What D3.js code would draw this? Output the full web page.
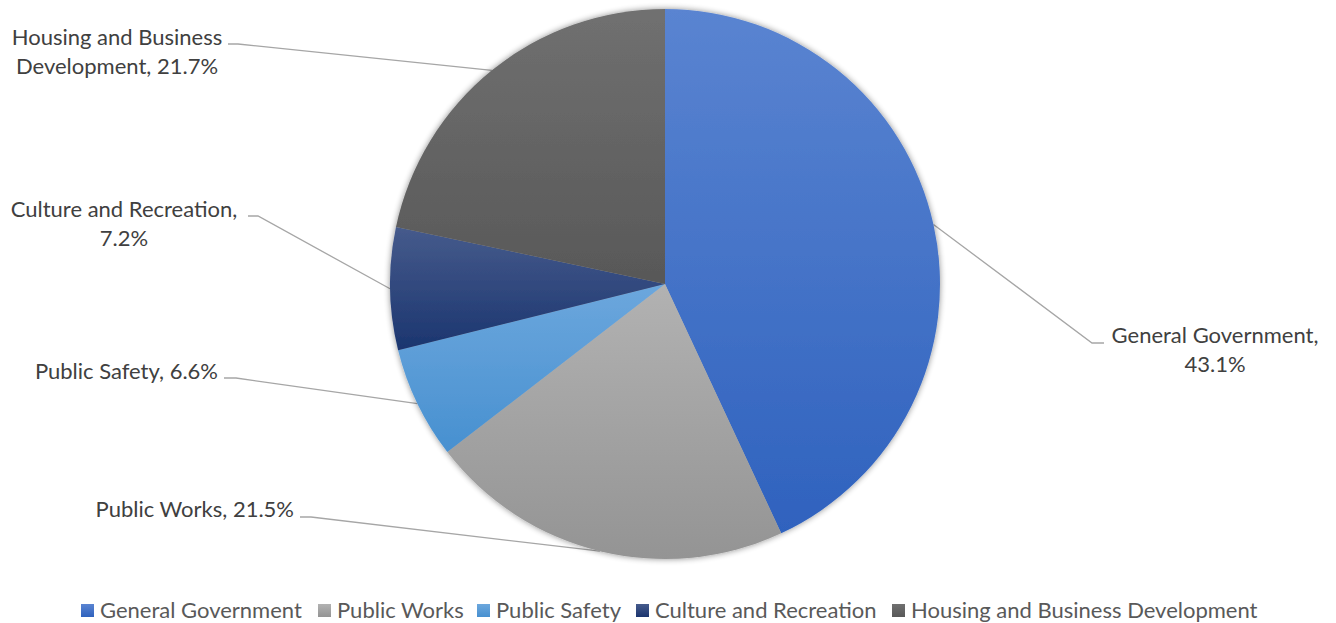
<!DOCTYPE html>
<html><head><meta charset="utf-8">
<script src="https://cdn.jsdelivr.net/npm/d3@7"></script>
<style>
html,body{margin:0;padding:0;background:#fff;}
svg{display:block;font-family:Lato,"Open Sans",sans-serif;}
</style></head><body>
<svg id="chart" width="1336" height="623"></svg>
<script>
const categories = ["General Government","Public Works","Public Safety","Culture and Recreation","Housing and Business Development"];
const values = [43.1, 21.5, 6.6, 7.2, 21.7];
const labelLines = [["General Government,","43.1%"],["Public Works, 21.5%"],["Public Safety, 6.6%"],["Culture and Recreation,","7.2%"],["Housing and Business","Development, 21.7%"]];
const colors = [["#5a84d1","#2f62be"],["#b2b2b2","#949494"],["#6ca7dd","#4790d0"],["#465b8c","#1b356f"],["#707070","#585858"]];

const svg = d3.select("#chart");
const cx = 665, cy = 284, R = 275;

const layout = [
  {anchor:"middle", x:1215, y:343, p1:[1104,343], p2:[1092,343]},
  {anchor:"end", x:294, y:517, p1:[300,517], p2:[311,517]},
  {anchor:"end", x:218, y:379, p1:[224,378], p2:[236,378]},
  {anchor:"middle", x:124, y:217, p1:[248,216], p2:[258,216]},
  {anchor:"middle", x:117, y:45, p1:[228,44], p2:[238,44]}
];

const defs = svg.append("defs");
colors.forEach((c,i)=>{
  const g = defs.append("linearGradient").attr("id","g"+i).attr("x1",0).attr("y1",0).attr("x2",0).attr("y2",1);
  g.append("stop").attr("offset","0%").attr("stop-color",c[0]);
  g.append("stop").attr("offset","100%").attr("stop-color",c[1]);
});
const f = defs.append("filter").attr("id","sh").attr("x","-10%").attr("y","-10%").attr("width","120%").attr("height","120%");
f.append("feGaussianBlur").attr("in","SourceAlpha").attr("stdDeviation",3).attr("result","b");
f.append("feComponentTransfer").attr("in","b").attr("result","t").append("feFuncA").attr("type","linear").attr("slope",0.45);
const m = f.append("feMerge"); m.append("feMergeNode").attr("in","t"); m.append("feMergeNode").attr("in","SourceGraphic");

const pie = d3.pie().sort(null).value(d=>d)(values);
const arc = d3.arc().innerRadius(0).outerRadius(R);

const lg = svg.append("g");
pie.forEach((d,i)=>{
  const a = (d.startAngle+d.endAngle)/2;
  const ex = cx + R*Math.sin(a), ey = cy - R*Math.cos(a);
  const L = layout[i];
  lg.append("polyline").attr("points",[L.p1,L.p2,[ex,ey]].map(p=>p.join(",")).join(" "))
    .attr("fill","none").attr("stroke","#a6a6a6").attr("stroke-width",1.3);
});

const pg = svg.append("g").attr("transform",`translate(${cx},${cy})`).attr("filter","url(#sh)");
pg.selectAll("path").data(pie).join("path").attr("d",arc).attr("fill",(d,i)=>`url(#g${i})`);

const tg = svg.append("g").attr("font-size",22).attr("fill","#404040");
labelLines.forEach((lines,i)=>{
  const L = layout[i];
  const t = tg.append("text").attr("text-anchor",L.anchor);
  lines.forEach((s,j)=>t.append("tspan").attr("x",L.x).attr("y",L.y+j*29).text(s));
});

const legX = [81,318,477,636,892];
const leg = svg.append("g").attr("font-size",22).attr("fill","#595959");
categories.forEach((c,i)=>{
  leg.append("rect").attr("x",legX[i]).attr("y",604).attr("width",13).attr("height",13).attr("fill",`url(#g${i})`);
  leg.append("text").attr("x",legX[i]+19).attr("y",618).text(c);
});
</script></body></html>
